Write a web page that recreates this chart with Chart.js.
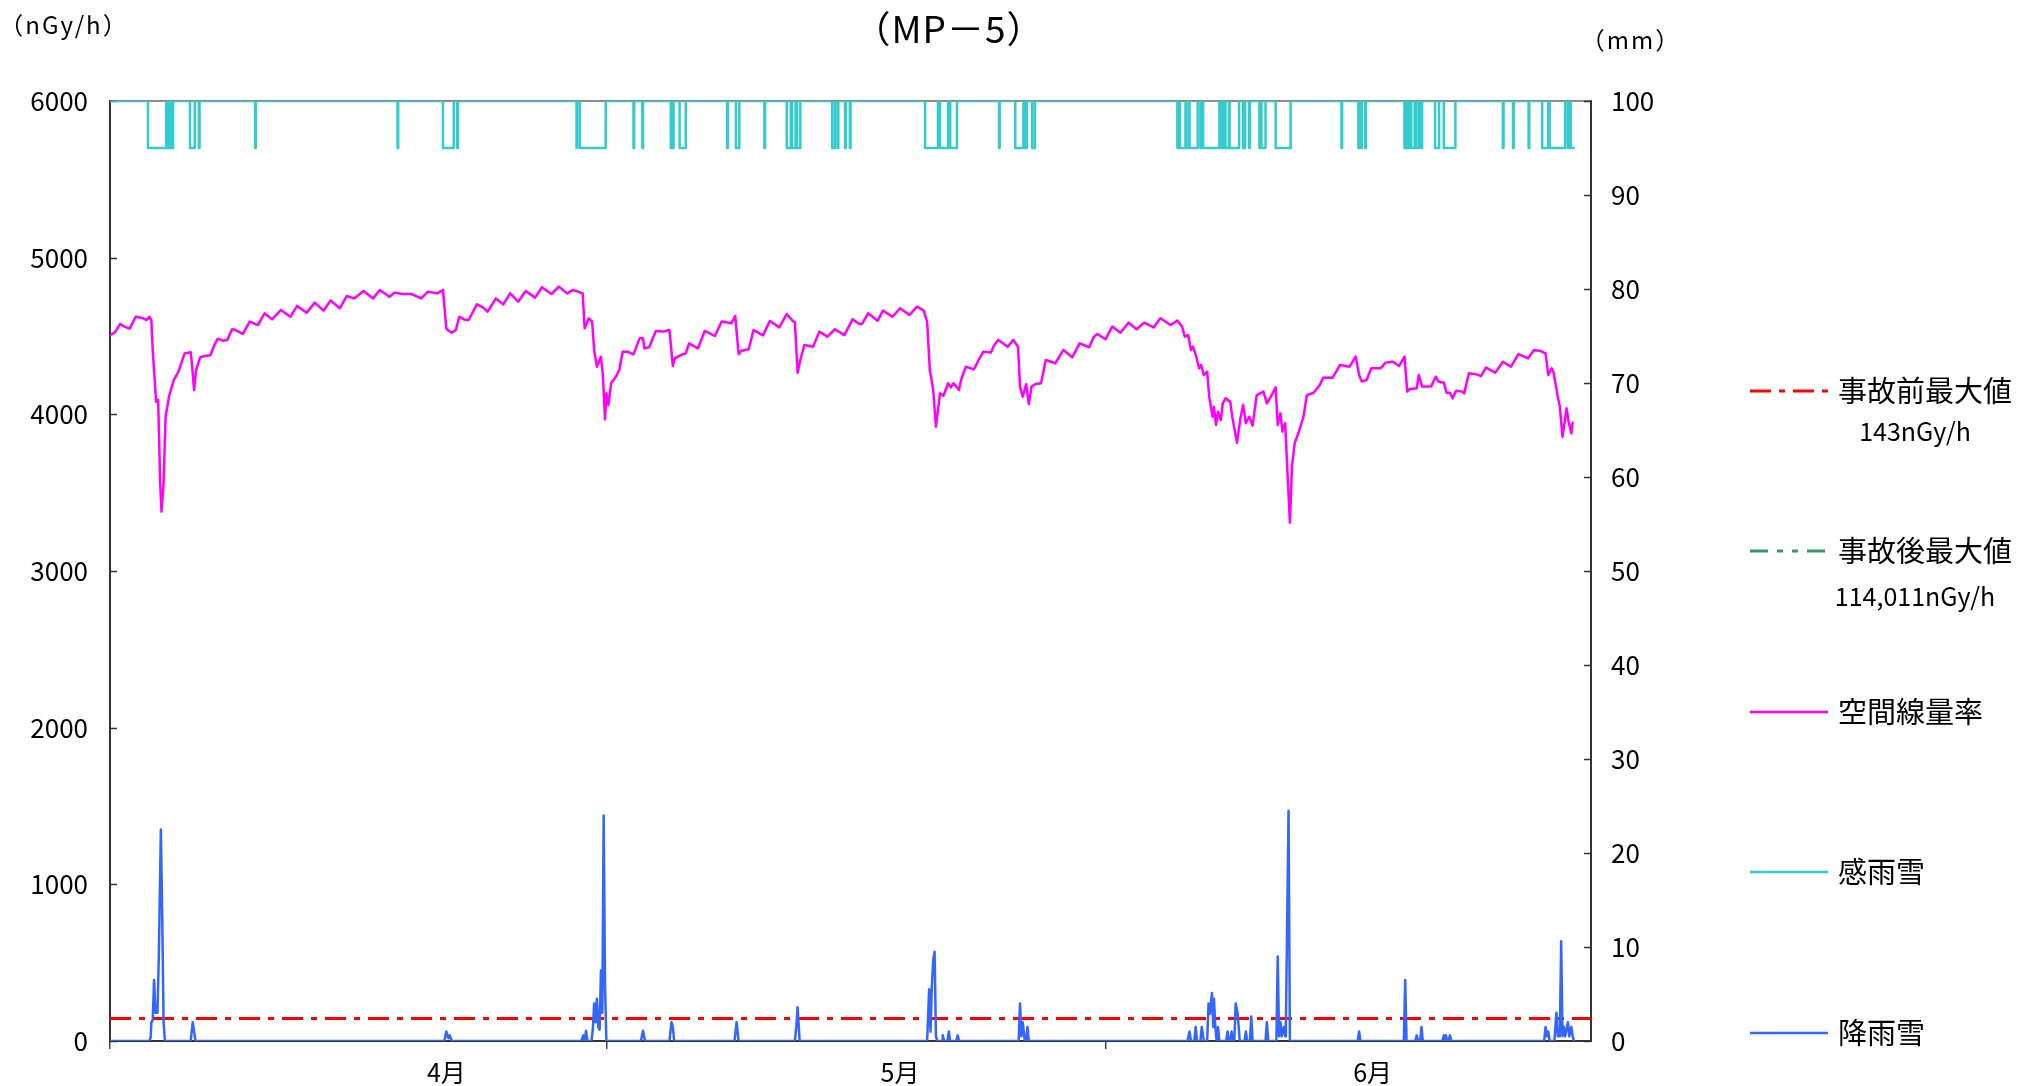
<!DOCTYPE html>
<html><head><meta charset="utf-8">
<script src="https://cdn.jsdelivr.net/npm/chart.js@4/dist/chart.umd.min.js"></script>
<style>html,body{margin:0;padding:0;background:#fff;overflow:hidden}#c{display:block}</style>
</head><body>
<canvas id="c" width="2018" height="1086"></canvas>
<script>
// ---------- text ----------
const chartTitle = '（MP－5）';
const leftUnit = '（nGy/h）';
const rightUnit = '（mm）';
const seriesNames = ['事故前最大値', '事故後最大値', '空間線量率', '感雨雪', '降雨雪'];

// ---------- reference values ----------
const preAccidentMax = 143;      // nGy/h
const postAccidentMax = 114011;  // nGy/h

// ---------- x axis (hours from start of period) ----------
const hourRange = [0, 2184];
const xTickMarkHours = [0, 733, 1469];
const monthLabels = ['4月', '5月', '6月'];
const monthLabelHours = [496, 1165, 1862];

// ---------- y axes ----------
const doseAxis = [0, 6000, 1000];
const rainAxis = [0, 100, 10];

// ---------- 空間線量率 (nGy/h) ----------
const doseHours = [0,7,15,21,29,38,49,54,58,61,63,68,71,74,76,79,82,87,94,101,110,119,121,124,127,133,140,148,154,159,166,173,180,185,196,206,218,228,239,252,266,276,290,302,315,325,339,349,360,374,388,398,412,420,431,445,459,469,483,491,496,499,504,510,515,522,529,541,550,557,569,580,590,602,613,627,637,651,662,674,683,697,700,706,711,714,718,724,727,730,732,735,739,746,751,756,763,772,781,786,788,795,805,816,825,830,833,842,849,854,867,877,892,902,916,922,927,931,942,949,963,973,987,998,1007,1010,1014,1018,1024,1037,1046,1058,1069,1083,
1095,1105,1109,1118,1132,1140,1154,1165,1179,1190,1200,1205,1209,1214,1218,1224,1229,1236,1240,1244,1252,1255,1262,1274,1281,1288,1299,1304,1310,1324,1332,1339,1342,1346,1351,1355,1359,1365,1373,1380,1394,1406,1419,1430,1444,1451,1456,1468,1478,1490,1502,1514,1525,1539,1549,1564,1574,1581,1585,1590,1594,1597,1602,1606,1609,1613,1618,1621,1626,1628,1631,1634,1638,1641,1645,1652,1655,1659,1662,1667,1671,1675,1680,1685,1691,1701,1706,1712,1719,1722,1726,1729,1733,1736,1740,1743,1747,1754,1760,1765,1775,1784,1789,1803,1814,1828,1837,1842,1846,1853,1860,1874,1881,1892,1901,1909,1913,1916,1927,1930,1935,1948,1955,1959,1967,1971,1976,1980,1985,1994,1997,2004,2015,2022,2029,2043,2054,2066,2077,2091,2100,2110,2117,2121,2126,2129,2135,2138,2142,2148,2151,2155,2157];
const doseValues = [4506,4521,4577,4560,4547,4623,4613,4602,4623,4602,4411,4081,4092,3560,3379,3560,3985,4113,4219,4272,4389,4396,4315,4155,4283,4364,4372,4377,4443,4483,4470,4475,4543,4538,4513,4592,4570,4645,4606,4666,4623,4692,4649,4713,4662,4726,4677,4755,4740,4787,4740,4794,4751,4777,4768,4768,4740,4783,4772,4794,4549,4534,4521,4538,4623,4606,4602,4702,4683,4655,4740,4702,4772,4719,4787,4745,4811,4768,4815,4772,4794,4772,4549,4613,4592,4411,4304,4368,4240,3968,4134,4060,4198,4240,4283,4400,4400,4383,4485,4485,4421,4428,4532,4528,4538,4309,4357,4379,4389,4453,4421,4532,4500,4592,4581,4628,4385,4406,4415,4538,4504,4596,4555,4640,4596,4587,4266,4347,4443,4432,4528,4496,4543,4506,
4606,4577,4577,4645,4598,4662,4623,4677,4634,4687,4662,4592,4283,4155,3921,4134,4119,4198,4172,4198,4155,4219,4304,4287,4347,4400,4394,4443,4475,4432,4475,4432,4177,4113,4192,4066,4177,4194,4198,4347,4326,4411,4364,4453,4428,4496,4513,4479,4560,4521,4585,4543,4585,4555,4613,4570,4598,4560,4496,4506,4411,4432,4368,4294,4315,4251,4272,4113,3985,4049,3932,4017,3964,4070,4102,4081,3985,3889,3819,3975,4060,3943,3985,3928,4123,4145,4070,4113,4172,3932,4006,3889,3943,3666,3309,3666,3815,3900,3985,4123,4138,4187,4234,4234,4315,4304,4368,4251,4209,4219,4294,4294,4330,4336,4309,4368,4145,4160,4166,4251,4177,4177,4240,4209,4202,4138,4138,4102,4151,4145,4134,4262,4255,4245,4298,4266,4336,4304,4385,4357,4411,4404,4389,4251,4294,4262,4113,4049,3857,4038,3953,3879,3953];

// ---------- 降雨雪 (mm) ----------
const rainHours = [0,58,60,61,63,65,67,70,72,75,77,79,81,119,122,126,493,496,499,501,504,695,698,700,702,704,710,712,714,716,718,720,722,724,726,728,730,732,783,786,789,825,828,830,832,921,924,927,1010,1012,1014,1017,1205,1208,1210,1212,1214,1216,1218,1220,1227,1228,1230,1235,1237,1239,1248,1250,1252,1340,1342,1344,1346,1349,1351,1353,1355,1589,1592,1594,1599,1601,1603,1608,1610,1613,1618,1620,1622,1625,1627,1628,1630,1632,1634,1636,1646,1648,1650,1652,1654,1656,1658,1660,1663,1666,1673,1675,1677,1681,1683,1685,1704,1706,1708,1720,1722,1724,1726,1728,1731,1733,1734,1738,1740,1840,1842,1844,1908,1910,1912,1925,1927,1929,1932,1934,1936,1965,1967,1969,1970,1972,1974,1976,1978,2115,2117,2119,2121,2123,2130,2133,2135,2136,2138,2140,2142,2144,2146,2150,2152,2155,2157,2159,2160];
const rainValues = [0,0,0.4,2.0,2.2,6.5,3.0,3.0,9.0,22.5,13.4,2.0,0,0,2.0,0,0,1.0,0.3,0.6,0,0,0.6,0,1.1,0,0,1.2,4.0,2.0,4.5,1.5,1.2,7.5,3.0,24.0,6.0,0,0,1.1,0,0,2.0,1.5,0,0,2.0,0,0,1.5,3.6,0,0,5.5,1.0,5.9,8.6,9.5,0.5,0,0,0.6,0,0,1.0,0,0,0.6,0,0,4.0,0.5,2.0,0,0,1.5,0,0,1.0,0,0,1.5,0,0,1.5,0,0,4.0,2.9,5.1,1.5,4.5,1.5,0,1.5,0,0,1.0,0,0,1.0,0,0,4.0,2.9,0,0,1.0,0,0,2.6,0,0,2.0,0,0,9.0,0.5,2.0,0.5,1.5,0.5,1.5,24.5,0,0,1.0,0,0,6.5,0,0,0.6,0,0,1.5,0,0,0.6,0,0.6,0,0,0.6,0,0,1.5,0.5,1.0,0,0,3.0,0.5,1.0,0.5,10.6,0.5,1.5,0.5,2.0,0.5,1.5,0.5,0,0];

// ---------- 感雨雪 (sensor on intervals, hours) ----------
const senseOnStart = [56,85,87,90,92,118,131,214,424,491,512,688,693,772,785,827,830,840,910,923,965,998,1006,1013,1065,1073,1084,1091,1202,1224,1239,1311,1335,1349,1360,1574,1578,1587,1592,1608,1612,1637,1639,1641,1643,1645,1651,1671,1680,1695,1698,1719,1816,1841,1845,1851,1909,1913,1919,1926,1933,1954,1967,2054,2069,2092,2112,2123,2150,2154];
const senseOnEnd   = [83,86,88,91,93,125,132,215,425,507,513,689,731,773,786,828,831,849,911,928,966,1004,1011,1018,1069,1074,1085,1092,1221,1236,1249,1312,1347,1352,1364,1576,1586,1591,1604,1609,1636,1638,1640,1642,1644,1650,1665,1674,1681,1696,1704,1741,1817,1842,1846,1852,1911,1916,1924,1930,1935,1960,1984,2055,2070,2093,2121,2146,2151,2160];
const senseOffLevel = 100;
const senseOnLevel = 95;
const senseEndHour = 2160;

// ---------- build library data ----------
const doseData = doseHours.map((h, i) => ({x: h, y: doseValues[i]}));
const rainData = rainHours.map((h, i) => ({x: h, y: rainValues[i]}));
const senseData = [{x: hourRange[0], y: senseOffLevel}];
senseOnStart.forEach((s, i) => {
  const e = senseOnEnd[i];
  senseData.push({x: s, y: senseOnLevel});
  senseData.push({x: e, y: e >= senseEndHour ? senseOnLevel : senseOffLevel});
});
const preData = hourRange.map(h => ({x: h, y: preAccidentMax}));
const postData = hourRange.map(h => ({x: h, y: postAccidentMax}));
const subLabels = [preAccidentMax.toLocaleString('en-US') + 'nGy/h', postAccidentMax.toLocaleString('en-US') + 'nGy/h', '', '', ''];

const FONT = '"Noto Sans CJK JP", "Noto Sans", sans-serif';
Chart.defaults.font.family = FONT;
Chart.defaults.color = '#000';

const decor = {
  id: 'decor',
  beforeDatasetsDraw(chart) {
    const {ctx, chartArea: a} = chart;
    ctx.save();
    ctx.strokeStyle = '#8c8c8c';
    ctx.lineWidth = 2;
    ctx.beginPath(); ctx.moveTo(a.left, a.top); ctx.lineTo(a.right, a.top); ctx.stroke();
    ctx.strokeStyle = '#333';
    ctx.lineWidth = 1.5;
    ['y', 'y2'].forEach(id => {
      const s = chart.scales[id];
      s.ticks.forEach(t => {
        const py = Math.round(s.getPixelForValue(t.value)) + 0.5;
        ctx.beginPath();
        if (id === 'y') { ctx.moveTo(a.left, py); ctx.lineTo(a.left + 7, py); }
        else { ctx.moveTo(a.right - 7, py); ctx.lineTo(a.right, py); }
        ctx.stroke();
      });
    });
    ctx.restore();
  },
  afterDraw(chart) {
    const ctx = chart.ctx;
    ctx.save();
    ctx.fillStyle = '#000';
    ctx.textBaseline = 'middle';
    ctx.textAlign = 'center';
    ctx.letterSpacing = '1px';
    ctx.font = '37px ' + FONT;
    ctx.fillText(chartTitle, 949, 29);
    ctx.letterSpacing = '2px';
    ctx.font = '24px ' + FONT;
    ctx.fillText(leftUnit, 64, 25);
    ctx.fillText(rightUnit, 1631, 40);
    ctx.letterSpacing = '0px';
    // legend
    const legendY = [391, 551, 712, 872, 1033];
    chart.data.datasets.forEach((ds, i) => {
      const y = legendY[i];
      ctx.save();
      ctx.strokeStyle = ds.borderColor;
      ctx.lineWidth = ds.borderWidth;
      ctx.setLineDash(ds.borderDash || []);
      ctx.beginPath(); ctx.moveTo(1750, y); ctx.lineTo(1828, y); ctx.stroke();
      ctx.restore();
      ctx.textAlign = 'left';
      ctx.font = '29px ' + FONT;
      ctx.fillText(ds.label, 1838, y);
      if (subLabels[i]) {
        ctx.textAlign = 'center';
        ctx.font = '25px ' + FONT;
        ctx.fillText(subLabels[i], 1915, y + (i === 0 ? 40 : 45));
      }
    });
    ctx.restore();
  }
};

new Chart(document.getElementById('c'), {
  type: 'line',
  data: {
    datasets: [
      {label: seriesNames[0], data: preData, borderColor: '#FF0000', borderWidth: 3, borderDash: [21, 8, 6, 8], yAxisID: 'y', order: 5},
      {label: seriesNames[1], data: postData, borderColor: '#339966', borderWidth: 3, borderDash: [18, 9, 6, 9, 6, 9], yAxisID: 'y', order: 4},
      {label: seriesNames[2], data: doseData, borderColor: '#FF00FF', borderWidth: 2.5, yAxisID: 'y', order: 3},
      {label: seriesNames[3], data: senseData, borderColor: '#33CCCC', borderWidth: 2.5, stepped: true, yAxisID: 'y2', order: 2},
      {label: seriesNames[4], data: rainData, borderColor: '#3366FF', borderWidth: 2.5, yAxisID: 'y2', order: 1}
    ]
  },
  options: {
    responsive: false,
    animation: false,
    devicePixelRatio: 1,
    layout: {padding: {top: 101, right: 347, left: 0, bottom: 0}},
    elements: {point: {radius: 0}, line: {tension: 0, borderJoinStyle: 'round', fill: false}},
    plugins: {legend: {display: false}, title: {display: false}, tooltip: {enabled: false}},
    scales: {
      x: {
        type: 'linear', position: 'bottom', min: hourRange[0], max: hourRange[1], weight: 0,
        afterBuildTicks: s => { s.ticks = xTickMarkHours.map(v => ({value: v})); },
        afterFit: s => { s.height = 8; },
        ticks: {display: false},
        grid: {display: true, drawOnChartArea: false, drawTicks: true, tickLength: 8, color: '#444', lineWidth: 1.5},
        border: {display: true, color: '#333', width: 2}
      },
      xm: {
        type: 'linear', position: 'bottom', min: hourRange[0], max: hourRange[1], weight: 1,
        afterBuildTicks: s => { s.ticks = monthLabelHours.map(v => ({value: v})); },
        afterFit: s => { s.height = 37; },
        ticks: {autoSkip: false, maxRotation: 0, padding: 8, font: {size: 25}, color: '#000', callback: (v, i) => monthLabels[i]},
        grid: {display: false, drawTicks: false},
        border: {display: false}
      },
      y: {
        type: 'linear', position: 'left', min: doseAxis[0], max: doseAxis[1],
        afterFit: s => { s.width = 110; },
        ticks: {stepSize: doseAxis[2], padding: 22, font: {size: 26}, color: '#000', callback: v => String(v)},
        grid: {display: false, drawTicks: false},
        border: {display: true, color: '#333', width: 2}
      },
      y2: {
        type: 'linear', position: 'right', min: rainAxis[0], max: rainAxis[1],
        afterFit: s => { s.width = 80; },
        ticks: {stepSize: rainAxis[2], padding: 20, font: {size: 26}, color: '#000', callback: v => String(v)},
        grid: {display: false, drawTicks: false},
        border: {display: true, color: '#333', width: 2}
      }
    }
  },
  plugins: [decor]
});
</script>
</body></html>
